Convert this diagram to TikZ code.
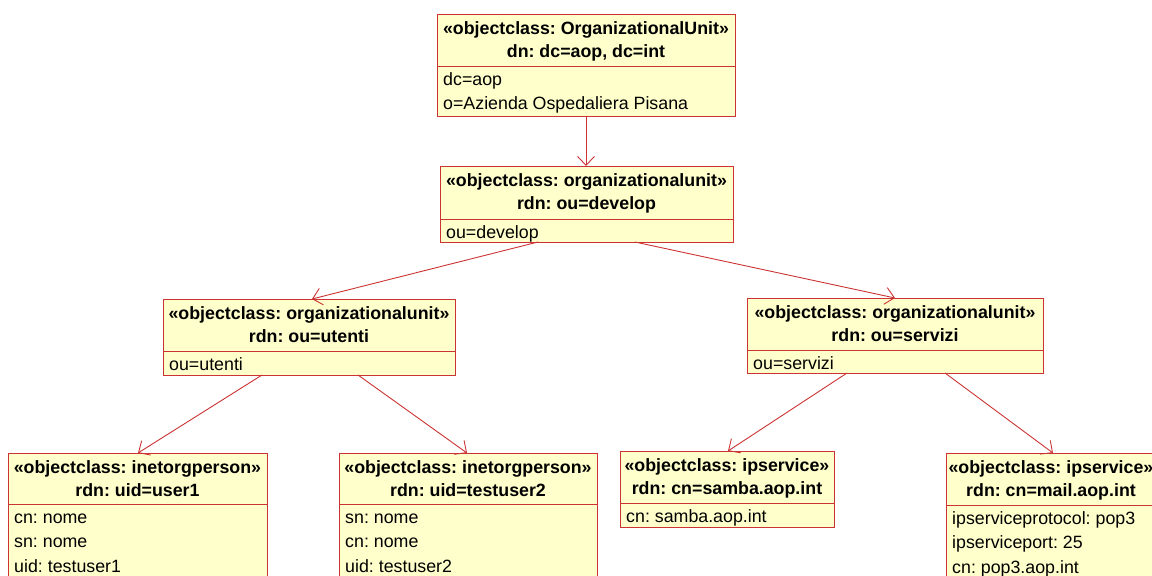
\documentclass[tikz,border=0pt]{standalone}
\usepackage{fontspec}
\setmainfont{Liberation Sans}
\usetikzlibrary{arrows.meta}
\frenchspacing
\definecolor{boxfill}{RGB}{255,255,204}
\definecolor{boxline}{RGB}{204,51,51}
\tikzset{
  objbox/.style={draw=boxline, fill=boxfill, line width=1pt, rectangle, inner sep=0pt, outer sep=0pt, anchor=north west},
  divline/.style={draw=boxline, line width=1pt},
  titletext/.style={font=\fontsize{17.8}{20}\selectfont\bfseries\frenchspacing, anchor=base, inner sep=0pt},
  attrtext/.style={font=\fontsize{17.8}{20}\selectfont\frenchspacing, anchor=base west, inner sep=0pt},
  link/.style={draw=boxline, line width=0.9pt, -{Straight Barb[length=9pt,width=17pt,line width=0.9pt]}},
}
% name, left, top, right, divider, bottom, title1, title2, attributes
\newcommand{\ObjBox}[9]{%
  \node[objbox, minimum width={(#4-#2)*1pt}, minimum height={(#6-#3)*1pt}] (#1) at (#2,#3) {};
  \draw[divline] (#2,#5) -- (#4,#5);
  \node[titletext] (#1t1) at ({(#2+#4)/2},{#3+20}) {#7};
  \node[titletext] (#1t2) at ({(#2+#4)/2},{#3+43.5}) {#8};
  \foreach \a [count=\i] in {#9} {
    \node[attrtext] (#1a\i) at ({#2+6},{#5+19+(\i-1)*24.5}) {\a};
  }%
}
\begin{document}
\begin{tikzpicture}[x=1pt,y=-1pt]
  \useasboundingbox (0,0) rectangle (1152,576);
  \fill[white] (0,0) rectangle (1152,576);
  \clip (0,0) rectangle (1152,576);

  \ObjBox{top}{437}{14}{735}{66}{116}{«objectclass: OrganizationalUnit»}{dn: dc=aop, dc=int}{dc=aop,o=Azienda Ospedaliera Pisana}
  \ObjBox{develop}{440}{166}{733}{219}{242}{«objectclass: organizationalunit»}{rdn: ou=develop}{ou=develop}
  \ObjBox{utenti}{163}{299}{455}{351}{375}{«objectclass: organizationalunit»}{rdn: ou=utenti}{ou=utenti}
  \ObjBox{servizi}{747}{298}{1043}{350}{373}{«objectclass: organizationalunit»}{rdn: ou=servizi}{ou=servizi}
  \ObjBox{user}{8}{453}{267}{504}{610}{«objectclass: inetorgperson»}{rdn: uid=user1}{cn: nome,sn: nome,uid: testuser1}
  \ObjBox{testuser}{339}{453}{597}{504}{610}{«objectclass: inetorgperson»}{rdn: uid=testuser2}{sn: nome,cn: nome,uid: testuser2}
  \ObjBox{samba}{620}{451}{834}{503}{527}{«objectclass: ipservice»}{rdn: cn=samba.aop.int}{cn: samba.aop.int}
  \ObjBox{mail}{946}{453}{1156}{505}{610}{«objectclass: ipservice»}{rdn: cn=mail.aop.int}{ipserviceprotocol: pop3,ipserviceport: 25,cn: pop3.aop.int}

  \draw[link] (top.south) -- (top.south |- develop.north);
  \draw[link] ([xshift=98pt]develop.south west) -- ([xshift=149pt]utenti.north west);
  \draw[link] ([xshift=195pt]develop.south west) -- ([xshift=148pt]servizi.north west);
  \draw[link] ([xshift=99pt]utenti.south west) -- ([xshift=130pt]user.north west);
  \draw[link] ([xshift=195pt]utenti.south west) -- ([xshift=128pt]testuser.north west);
  \draw[link] ([xshift=100pt]servizi.south west) -- ([xshift=108pt]samba.north west);
  \draw[link] ([xshift=198pt]servizi.south west) -- ([xshift=107pt]mail.north west);
\end{tikzpicture}
\end{document}
